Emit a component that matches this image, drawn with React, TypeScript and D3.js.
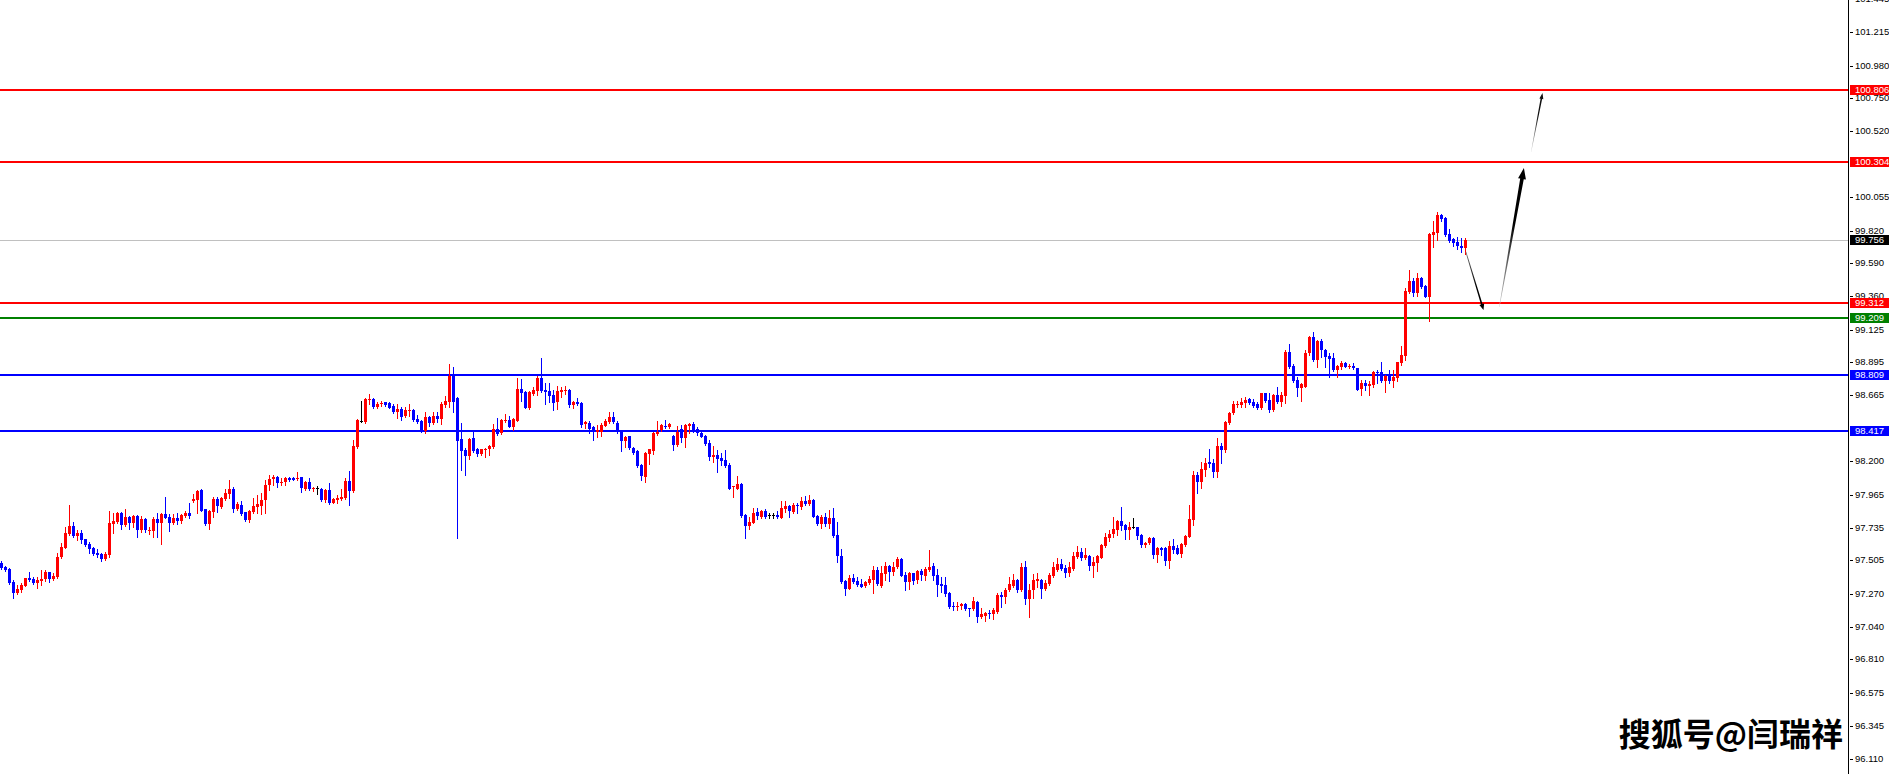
import React from 'react';
import * as d3 from 'd3';

// [open, high, low, close] per bar
type Bar = [number, number, number, number];

const barsEarly: Bar[] = [
  [97.488, 97.500, 97.442, 97.449], [97.460, 97.467, 97.430, 97.437], [97.444, 97.449, 97.336, 97.348],
  [97.350, 97.367, 97.238, 97.278], [97.278, 97.332, 97.266, 97.303], [97.296, 97.343, 97.280, 97.332],
  [97.327, 97.383, 97.325, 97.378], [97.383, 97.421, 97.360, 97.367], [97.374, 97.390, 97.336, 97.348],
  [97.348, 97.390, 97.308, 97.367], [97.360, 97.437, 97.332, 97.371], [97.371, 97.437, 97.362, 97.425],
  [97.423, 97.425, 97.355, 97.374], [97.376, 97.414, 97.367, 97.395], [97.385, 97.554, 97.381, 97.528],
  [97.528, 97.629, 97.519, 97.599], [97.594, 97.741, 97.589, 97.697], [97.690, 97.893, 97.683, 97.746],
  [97.744, 97.776, 97.669, 97.676], [97.678, 97.718, 97.648, 97.697], [97.697, 97.718, 97.629, 97.648],
  [97.652, 97.657, 97.608, 97.613], [97.622, 97.636, 97.559, 97.587], [97.594, 97.601, 97.542, 97.549],
  [97.556, 97.587, 97.531, 97.540], [97.549, 97.554, 97.502, 97.514], [97.514, 97.566, 97.507, 97.549],
  [97.542, 97.851, 97.531, 97.767], [97.762, 97.840, 97.699, 97.781], [97.776, 97.844, 97.765, 97.840],
  [97.840, 97.847, 97.725, 97.753], [97.753, 97.865, 97.746, 97.812], [97.812, 97.819, 97.725, 97.765],
  [97.769, 97.823, 97.741, 97.819], [97.819, 97.823, 97.669, 97.718], [97.718, 97.819, 97.706, 97.795],
  [97.795, 97.800, 97.706, 97.716], [97.709, 97.741, 97.687, 97.718], [97.711, 97.812, 97.666, 97.795],
  [97.795, 97.837, 97.666, 97.769], [97.769, 97.835, 97.620, 97.830], [97.830, 97.952, 97.800, 97.805],
  [97.807, 97.830, 97.711, 97.769], [97.769, 97.828, 97.760, 97.805], [97.805, 97.835, 97.760, 97.783],
  [97.783, 97.828, 97.765, 97.823], [97.819, 97.851, 97.812, 97.840], [97.837, 97.905, 97.805, 97.816],
  [97.924, 97.971, 97.917, 97.936], [97.929, 97.999, 97.840, 97.992], [97.999, 98.008, 97.849, 97.854],
  [97.863, 97.865, 97.755, 97.760], [97.760, 97.858, 97.725, 97.851], [97.847, 97.952, 97.812, 97.936],
  [97.936, 97.947, 97.842, 97.886], [97.882, 97.952, 97.870, 97.945], [97.936, 98.003, 97.929, 97.980],
  [97.971, 98.069, 97.940, 98.008], [98.008, 98.022, 97.842, 97.868], [97.865, 97.917, 97.858, 97.898],
  [97.893, 97.922, 97.823, 97.828], [97.842, 97.847, 97.783, 97.788], [97.788, 97.858, 97.776, 97.851],
  [97.847, 97.940, 97.835, 97.889], [97.879, 97.964, 97.835, 97.898], [97.889, 97.975, 97.830, 97.929],
  [97.926, 98.069, 97.840, 98.034], [98.034, 98.104, 97.999, 98.074], [98.076, 98.102, 98.034, 98.092],
  [98.088, 98.097, 98.018, 98.050], [98.050, 98.085, 98.034, 98.057], [98.057, 98.092, 98.034, 98.085],
  [98.085, 98.092, 98.064, 98.069], [98.085, 98.088, 98.067, 98.069], [98.074, 98.125, 98.069, 98.085],
  [98.090, 98.092, 97.985, 98.015], [98.008, 98.062, 98.001, 98.055], [98.055, 98.083, 97.999, 98.006],
  [98.003, 98.022, 97.994, 98.015], [98.015, 98.027, 97.971, 98.015], [98.008, 98.010, 97.924, 97.929],
  [97.929, 98.003, 97.917, 97.999], [97.999, 98.050, 97.900, 97.910], [97.910, 97.940, 97.905, 97.936],
  [97.929, 97.964, 97.905, 97.943], [97.936, 98.006, 97.929, 97.952], [97.943, 98.081, 97.936, 98.062],
  [98.062, 98.132, 97.893, 97.992], [97.992, 98.350, 97.987, 98.308], [98.298, 98.495, 98.291, 98.490],
  [98.483, 98.626, 98.479, 98.483], [98.479, 98.643, 98.467, 98.638], [98.631, 98.673, 98.603, 98.638],
  [98.638, 98.643, 98.572, 98.579], [98.584, 98.614, 98.577, 98.603], [98.600, 98.624, 98.589, 98.612],
  [98.614, 98.619, 98.591, 98.596], [98.607, 98.614, 98.572, 98.577], [98.589, 98.600, 98.542, 98.547],
  [98.547, 98.600, 98.507, 98.568],
];

const barsTop: Bar[] = [
  [98.565, 98.579, 98.490, 98.514], [98.518, 98.579, 98.514, 98.561], [98.554, 98.600, 98.521, 98.561],
  [98.561, 98.565, 98.486, 98.490], [98.495, 98.526, 98.472, 98.479], [98.486, 98.490, 98.408, 98.415],
  [98.415, 98.547, 98.401, 98.511], [98.514, 98.521, 98.448, 98.472], [98.467, 98.547, 98.462, 98.518],
  [98.518, 98.549, 98.479, 98.495], [98.495, 98.614, 98.462, 98.603], [98.596, 98.661, 98.584, 98.624],
  [98.619, 98.884, 98.584, 98.802], [98.802, 98.865, 98.549, 98.619], [98.643, 98.654, 97.664, 98.345],
  [98.355, 98.472, 98.139, 98.275], [98.280, 98.291, 98.104, 98.238], [98.238, 98.364, 98.214, 98.359],
  [98.362, 98.408, 98.268, 98.275], [98.287, 98.291, 98.238, 98.252], [98.252, 98.289, 98.242, 98.284],
  [98.280, 98.296, 98.233, 98.289], [98.284, 98.312, 98.245, 98.308], [98.298, 98.462, 98.291, 98.425],
  [98.425, 98.502, 98.387, 98.392], [98.397, 98.495, 98.390, 98.490], [98.483, 98.530, 98.476, 98.490],
  [98.490, 98.521, 98.439, 98.444], [98.444, 98.502, 98.420, 98.495], [98.486, 98.788, 98.481, 98.708],
  [98.708, 98.776, 98.624, 98.678], [98.689, 98.694, 98.572, 98.577], [98.577, 98.696, 98.568, 98.685],
  [98.673, 98.724, 98.666, 98.701], [98.696, 98.802, 98.666, 98.785], [98.785, 98.928, 98.689, 98.696],
  [98.701, 98.748, 98.603, 98.689], [98.694, 98.753, 98.619, 98.659], [98.664, 98.701, 98.561, 98.612],
  [98.614, 98.729, 98.568, 98.694], [98.689, 98.724, 98.654, 98.701], [98.696, 98.732, 98.671, 98.701],
  [98.701, 98.706, 98.584, 98.596], [98.596, 98.626, 98.577, 98.614], [98.617, 98.643, 98.596, 98.605],
  [98.612, 98.619, 98.444, 98.455], [98.460, 98.486, 98.437, 98.479], [98.472, 98.486, 98.397, 98.427],
  [98.441, 98.448, 98.350, 98.404], [98.408, 98.455, 98.373, 98.420], [98.408, 98.467, 98.378, 98.455],
  [98.451, 98.495, 98.448, 98.486], [98.479, 98.544, 98.472, 98.514], [98.514, 98.549, 98.467, 98.474],
  [98.472, 98.483, 98.397, 98.404], [98.404, 98.408, 98.275, 98.345], [98.345, 98.380, 98.298, 98.373],
  [98.376, 98.380, 98.284, 98.291], [98.296, 98.303, 98.252, 98.261], [98.275, 98.280, 98.163, 98.167],
  [98.174, 98.179, 98.069, 98.097], [98.092, 98.266, 98.057, 98.259], [98.249, 98.289, 98.179, 98.284],
  [98.275, 98.404, 98.249, 98.397], [98.392, 98.483, 98.385, 98.408], [98.420, 98.462, 98.413, 98.455],
  [98.448, 98.490, 98.437, 98.441], [98.444, 98.472, 98.432, 98.462], [98.378, 98.383, 98.280, 98.315],
  [98.315, 98.448, 98.310, 98.408], [98.425, 98.455, 98.338, 98.366], [98.366, 98.460, 98.303, 98.455],
  [98.448, 98.469, 98.397, 98.462], [98.462, 98.479, 98.408, 98.420], [98.427, 98.444, 98.385, 98.397],
  [98.397, 98.408, 98.369, 98.373], [98.378, 98.385, 98.315, 98.322], [98.327, 98.350, 98.209, 98.233],
  [98.233, 98.308, 98.198, 98.245], [98.245, 98.280, 98.128, 98.214], [98.226, 98.256, 98.174, 98.205],
  [98.209, 98.280, 98.163, 98.167], [98.174, 98.186, 98.003, 98.008], [98.017, 98.029, 97.952, 98.025],
  [98.008, 98.097, 98.003, 98.043], [98.043, 98.048, 97.807, 97.819], [97.826, 97.830, 97.664, 97.746],
  [97.746, 97.812, 97.725, 97.776], [97.769, 97.870, 97.765, 97.840], [97.844, 97.870, 97.793, 97.819],
  [97.812, 97.858, 97.805, 97.851], [97.851, 97.863, 97.805, 97.812], [97.823, 97.840, 97.805, 97.823],
  [97.823, 97.835, 97.805, 97.823], [97.826, 97.851, 97.805, 97.812], [97.805, 97.922, 97.800, 97.870],
  [97.863, 97.922, 97.847, 97.889], [97.886, 97.893, 97.812, 97.851], [97.847, 97.905, 97.840, 97.893],
  [97.893, 97.905, 97.835, 97.886],
];

const barsDip: Bar[] = [
  [97.883, 97.953, 97.864, 97.922], [97.922, 97.958, 97.894, 97.901], [97.901, 97.965, 97.894, 97.929],
  [97.929, 97.934, 97.808, 97.812], [97.817, 97.824, 97.754, 97.761], [97.761, 97.824, 97.730, 97.808],
  [97.808, 97.836, 97.749, 97.761], [97.761, 97.859, 97.735, 97.801], [97.801, 97.871, 97.672, 97.677],
  [97.684, 97.777, 97.496, 97.538], [97.538, 97.585, 97.344, 97.351], [97.361, 97.368, 97.262, 97.304],
  [97.304, 97.403, 97.304, 97.384], [97.379, 97.410, 97.344, 97.351], [97.361, 97.386, 97.328, 97.332],
  [97.337, 97.372, 97.316, 97.321], [97.328, 97.361, 97.316, 97.351], [97.344, 97.396, 97.339, 97.375],
  [97.368, 97.468, 97.279, 97.438], [97.438, 97.461, 97.332, 97.339], [97.328, 97.468, 97.321, 97.419],
  [97.410, 97.496, 97.368, 97.468], [97.468, 97.473, 97.363, 97.426], [97.426, 97.496, 97.403, 97.461],
  [97.457, 97.531, 97.449, 97.515], [97.515, 97.520, 97.396, 97.398], [97.403, 97.426, 97.297, 97.356],
  [97.356, 97.426, 97.304, 97.414], [97.414, 97.419, 97.339, 97.361], [97.368, 97.438, 97.344, 97.431],
  [97.431, 97.442, 97.368, 97.400], [97.398, 97.461, 97.368, 97.442], [97.438, 97.578, 97.433, 97.461],
  [97.466, 97.485, 97.368, 97.396], [97.403, 97.442, 97.255, 97.332], [97.339, 97.386, 97.286, 97.325],
  [97.332, 97.391, 97.258, 97.269], [97.276, 97.281, 97.169, 97.180], [97.187, 97.215, 97.157, 97.176],
  [97.176, 97.215, 97.157, 97.187], [97.187, 97.204, 97.162, 97.199], [97.199, 97.204, 97.157, 97.164],
  [97.169, 97.173, 97.115, 97.164], [97.164, 97.251, 97.157, 97.220], [97.215, 97.220, 97.075, 97.110],
  [97.110, 97.169, 97.098, 97.126], [97.115, 97.145, 97.082, 97.138], [97.138, 97.157, 97.103, 97.129],
  [97.129, 97.169, 97.094, 97.157], [97.145, 97.274, 97.133, 97.262], [97.262, 97.281, 97.180, 97.251],
  [97.251, 97.309, 97.208, 97.297], [97.297, 97.391, 97.293, 97.339], [97.325, 97.407, 97.316, 97.368],
  [97.368, 97.372, 97.286, 97.297], [97.297, 97.485, 97.293, 97.461], [97.461, 97.501, 97.199, 97.234],
  [97.234, 97.339, 97.110, 97.297], [97.297, 97.410, 97.239, 97.368], [97.363, 97.414, 97.316, 97.372],
  [97.368, 97.372, 97.243, 97.304], [97.304, 97.368, 97.297, 97.344], [97.339, 97.414, 97.332, 97.403],
  [97.396, 97.496, 97.391, 97.461], [97.438, 97.524, 97.433, 97.478], [97.478, 97.513, 97.438, 97.442],
  [97.449, 97.473, 97.391, 97.419], [97.419, 97.496, 97.396, 97.457], [97.442, 97.567, 97.438, 97.536],
  [97.527, 97.606, 97.520, 97.567], [97.567, 97.590, 97.508, 97.524], [97.524, 97.590, 97.513, 97.543],
  [97.536, 97.543, 97.438, 97.468], [97.468, 97.531, 97.391, 97.496], [97.489, 97.543, 97.433, 97.536],
  [97.524, 97.618, 97.520, 97.613], [97.609, 97.695, 97.602, 97.667], [97.665, 97.719, 97.644, 97.691],
  [97.688, 97.808, 97.667, 97.723], [97.719, 97.789, 97.684, 97.784], [97.784, 97.883, 97.719, 97.749],
  [97.754, 97.759, 97.656, 97.719], [97.719, 97.777, 97.656, 97.737], [97.737, 97.805, 97.730, 97.737],
  [97.737, 97.742, 97.656, 97.679], [97.684, 97.691, 97.602, 97.613], [97.613, 97.637, 97.602, 97.625],
  [97.625, 97.672, 97.620, 97.665], [97.665, 97.667, 97.524, 97.543], [97.543, 97.597, 97.496, 97.590],
  [97.590, 97.597, 97.543, 97.578], [97.590, 97.602, 97.473, 97.503], [97.503, 97.644, 97.454, 97.606],
  [97.606, 97.656, 97.555, 97.578], [97.590, 97.613, 97.548, 97.550], [97.550, 97.630, 97.531, 97.620],
  [97.613, 97.684, 97.609, 97.677], [97.672, 97.894, 97.667, 97.796], [97.789, 98.133, 97.754, 98.105],
  [98.105, 98.128, 97.981, 98.058],
];

const barsBreakout: Bar[] = [
  [98.058, 98.194, 98.016, 98.147], [98.140, 98.222, 98.098, 98.192], [98.199, 98.287, 98.164, 98.182],
  [98.192, 98.215, 98.093, 98.128], [98.128, 98.362, 98.093, 98.308], [98.308, 98.327, 98.192, 98.280],
  [98.280, 98.486, 98.269, 98.479], [98.472, 98.545, 98.463, 98.538], [98.538, 98.624, 98.531, 98.604],
  [98.594, 98.624, 98.585, 98.604], [98.596, 98.643, 98.585, 98.620], [98.613, 98.655, 98.585, 98.632],
  [98.638, 98.643, 98.603, 98.613], [98.615, 98.636, 98.585, 98.590], [98.604, 98.620, 98.571, 98.578],
  [98.573, 98.683, 98.568, 98.678], [98.678, 98.683, 98.620, 98.627], [98.632, 98.678, 98.550, 98.561],
  [98.561, 98.671, 98.557, 98.667], [98.667, 98.721, 98.608, 98.615], [98.615, 98.690, 98.590, 98.667],
  [98.662, 98.983, 98.613, 98.971], [98.971, 99.025, 98.859, 98.866], [98.870, 98.885, 98.760, 98.767],
  [98.772, 98.796, 98.660, 98.718], [98.718, 98.749, 98.627, 98.742], [98.725, 98.983, 98.720, 98.964],
  [98.959, 99.081, 98.948, 99.076], [99.076, 99.109, 98.906, 98.913], [98.913, 99.053, 98.866, 99.046],
  [99.046, 99.060, 98.936, 98.983], [98.983, 98.988, 98.866, 98.936], [98.943, 98.959, 98.796, 98.920],
  [98.929, 98.964, 98.838, 98.842], [98.842, 98.878, 98.796, 98.870], [98.866, 98.906, 98.847, 98.894],
  [98.894, 98.896, 98.861, 98.866], [98.866, 98.885, 98.854, 98.873], [98.873, 98.894, 98.847, 98.854],
  [98.854, 98.859, 98.702, 98.702], [98.709, 98.772, 98.667, 98.749], [98.749, 98.772, 98.702, 98.732],
  [98.732, 98.765, 98.667, 98.744], [98.737, 98.835, 98.725, 98.830], [98.830, 98.842, 98.749, 98.823],
  [98.826, 98.896, 98.760, 98.765], [98.765, 98.807, 98.690, 98.800], [98.800, 98.842, 98.753, 98.765],
  [98.765, 98.842, 98.725, 98.791], [98.784, 98.900, 98.765, 98.896], [98.889, 99.011, 98.878, 98.948],
  [98.943, 99.415, 98.912, 99.397], [99.387, 99.544, 99.380, 99.467], [99.467, 99.485, 99.364, 99.380],
  [99.380, 99.521, 99.364, 99.485], [99.485, 99.492, 99.420, 99.427], [99.432, 99.436, 99.352, 99.357],
  [99.357, 99.801, 99.188, 99.797], [99.790, 99.888, 99.708, 99.813], [99.806, 99.949, 99.755, 99.930],
  [99.930, 99.935, 99.890, 99.902], [99.907, 99.914, 99.783, 99.790], [99.797, 99.830, 99.738, 99.748],
  [99.759, 99.766, 99.715, 99.731], [99.738, 99.773, 99.689, 99.715], [99.715, 99.771, 99.673, 99.701],
  [99.701, 99.766, 99.656, 99.756],
];

const candles: Bar[] = [...barsEarly, ...barsTop, ...barsDip, ...barsBreakout];

// horizontal levels drawn on the chart
const resistanceLevels = [100.806, 100.304, 99.312];
const pivotLevel = 99.209;
const supportLevels = [98.809, 98.417];
const lastPrice = 99.756;

const priceTicks = [
  101.445, 101.215, 100.98, 100.75, 100.52, 100.29, 100.055, 99.82, 99.59, 99.36, 99.125, 98.895,
  98.665, 98.43, 98.2, 97.965, 97.735, 97.505, 97.27, 97.04, 96.81, 96.575, 96.345, 96.11,
];

// hand-drawn projection arrows: [bar index, price]
const pullbackArrow: [number, number][] = [[366.1, 99.671], [370.5, 99.263]];
const rallyArrow: [number, number][] = [[374.45, 99.284], [380.6, 100.26]];
const targetArrow: [number, number][] = [[382.4, 100.373], [385.25, 100.787]];

const watermark = '搜狐号@闫瑞祥';

const W = 1889;
const H = 774;
const AXIS_X = 1848;

const RED = '#ff0000';
const BLUE = '#0000ff';
const GREEN = '#008000';

function arrowPath(p0: number[], p1: number[], w0: number, w1: number, headLen: number, headW: number) {
  const dx = p1[0] - p0[0];
  const dy = p1[1] - p0[1];
  const len = Math.hypot(dx, dy);
  const ux = dx / len, uy = dy / len;
  const nx = -uy, ny = ux;
  const bx = p1[0] - ux * headLen, by = p1[1] - uy * headLen;
  const pts: [number, number][] = [
    [p0[0] + nx * w0 / 2, p0[1] + ny * w0 / 2],
    [bx + nx * w1 / 2, by + ny * w1 / 2],
    [bx + nx * headW / 2, by + ny * headW / 2],
    [p1[0], p1[1]],
    [bx - nx * headW / 2, by - ny * headW / 2],
    [bx - nx * w1 / 2, by - ny * w1 / 2],
    [p0[0] - nx * w0 / 2, p0[1] - ny * w0 / 2],
  ];
  return d3.line()(pts) + 'Z';
}

export default function App() {
  const x = d3.scaleLinear().domain([0, 462]).range([1.5, 1849.5]);
  const y = d3.scaleLinear().domain([96.005, 101.4403]).range([H, 0]);
  const py = (v: number) => Math.round(y(v));

  const arrows = [
    { id: 'a1', pts: pullbackArrow, w0: 0.8, w1: 1.6, hl: 6, hw: 5, from: '#777777', to: '#000000' },
    { id: 'a2', pts: rallyArrow, w0: 0.4, w1: 3.6, hl: 11, hw: 8, from: '#d0d0d0', to: '#000000' },
    { id: 'a3', pts: targetArrow, w0: 0.3, w1: 1.6, hl: 6, hw: 4, from: '#e0e0e0', to: '#111111' },
  ].map(a => {
    const p0 = [x(a.pts[0][0]), y(a.pts[0][1])];
    const p1 = [x(a.pts[1][0]), y(a.pts[1][1])];
    return { ...a, p0, p1, d: arrowPath(p0, p1, a.w0, a.w1, a.hl, a.hw) };
  });

  const levelLines = [
    ...resistanceLevels.map(v => ({ v, color: RED })),
    { v: pivotLevel, color: GREEN },
    ...supportLevels.map(v => ({ v, color: BLUE })),
  ];

  const font = '"Liberation Sans", Arial, sans-serif';

  return (
    <svg width={W} height={H} style={{ position: 'absolute', left: 0, top: 0, display: 'block', background: '#fff' }}>
      <defs>
        {arrows.map(a => (
          <linearGradient key={a.id} id={a.id} gradientUnits="userSpaceOnUse"
            x1={a.p0[0]} y1={a.p0[1]} x2={a.p1[0]} y2={a.p1[1]}>
            <stop offset="0" stopColor={a.from} />
            <stop offset="0.6" stopColor={a.to} />
            <stop offset="1" stopColor={a.to} />
          </linearGradient>
        ))}
      </defs>
      <rect width={W} height={H} fill="#ffffff" />

      {/* current price line */}
      <line x1={0} x2={AXIS_X} y1={py(lastPrice) + 0.5} y2={py(lastPrice) + 0.5} stroke="#c0c0c0" strokeWidth={1} />

      {/* key levels */}
      <g shapeRendering="crispEdges">
        {levelLines.map(l => (
          <line key={l.v} x1={0} x2={AXIS_X} y1={py(l.v)} y2={py(l.v)} stroke={l.color} strokeWidth={2} />
        ))}
      </g>

      {/* candles */}
      <g shapeRendering="crispEdges">
        {candles.map(([o, h, l, c], i) => {
          const cx = x(i);
          const color = c > o ? RED : c < o ? BLUE : '#000000';
          const top = py(Math.max(o, c));
          const bot = py(Math.min(o, c));
          return (
            <g key={i}>
              <line x1={cx} x2={cx} y1={py(h)} y2={py(l) + 1} stroke={color} strokeWidth={1} />
              <rect x={cx - 1.5} y={top} width={3} height={Math.max(1, bot - top)} fill={color} />
            </g>
          );
        })}
      </g>

      {/* projection arrows */}
      {arrows.map(a => (
        <path key={a.id} d={a.d} fill={`url(#${a.id})`} />
      ))}

      {/* watermark */}
      <text x={1843} y={746} textAnchor="end" fontFamily='"Noto Sans CJK SC", sans-serif' fontSize={32}
        fontWeight={700} fill="#000">
        {watermark}
      </text>

      {/* price axis */}
      <rect x={AXIS_X + 1} y={0} width={W - AXIS_X - 1} height={H} fill="#fff" />
      <line x1={AXIS_X + 0.5} x2={AXIS_X + 0.5} y1={0} y2={H} stroke="#000" strokeWidth={1} shapeRendering="crispEdges" />
      <g fontFamily={font} fontSize={9.5} fill="#000">
        {priceTicks.map(t => (
          <g key={t}>
            <line x1={AXIS_X + 2} x2={AXIS_X + 5} y1={py(t) + 0.5} y2={py(t) + 0.5} stroke="#000" shapeRendering="crispEdges" />
            <text x={AXIS_X + 7} y={py(t)} dy="0.36em">{d3.format('.3f')(t)}</text>
          </g>
        ))}
      </g>
      <g fontFamily={font} fontSize={9.5}>
        {[...levelLines, { v: lastPrice, color: '#000000' }].map(l => (
          <g key={'lb' + l.v}>
            <rect x={AXIS_X + 2} y={py(l.v) - 5} width={W - AXIS_X - 2} height={10} fill={l.color} shapeRendering="crispEdges" />
            <text x={AXIS_X + 7} y={py(l.v)} dy="0.36em" fill="#fff">{d3.format('.3f')(l.v)}</text>
          </g>
        ))}
      </g>
    </svg>
  );
}
